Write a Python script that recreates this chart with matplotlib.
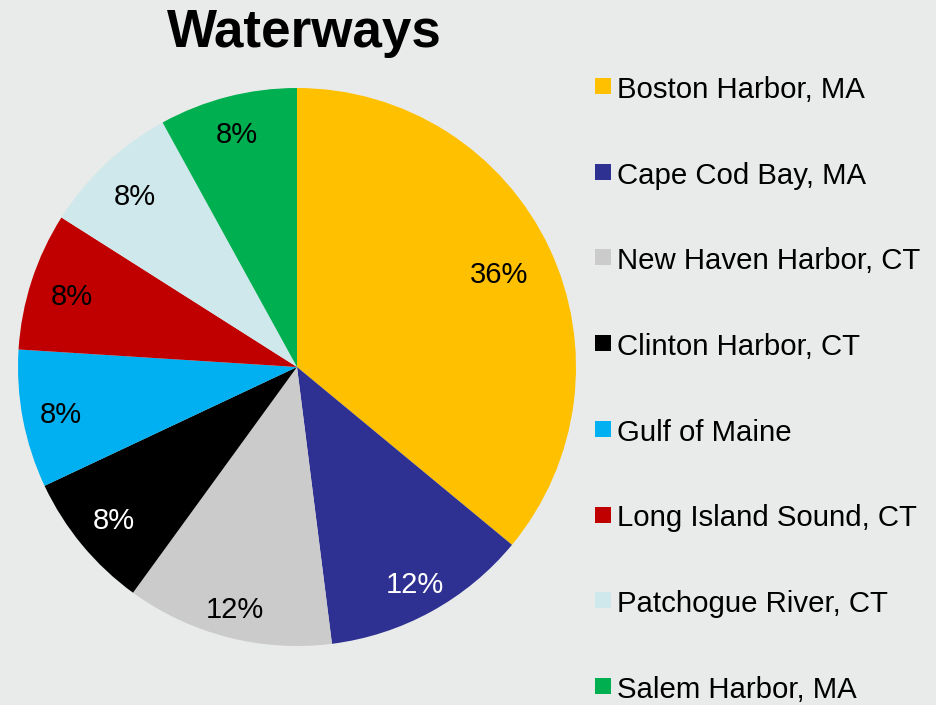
import matplotlib
matplotlib.use("Agg")
import matplotlib.pyplot as plt
from matplotlib.patches import Rectangle
import numpy as np

plt.rcParams["font.family"] = ["Liberation Sans", "DejaVu Sans"]

# Share of sightings per waterway (percent)
waterways = [
    "Boston Harbor, MA",
    "Cape Cod Bay, MA",
    "New Haven Harbor, CT",
    "Clinton Harbor, CT",
    "Gulf of Maine",
    "Long Island Sound, CT",
    "Patchogue River, CT",
    "Salem Harbor, MA",
]
shares = [36, 12, 12, 8, 8, 8, 8, 8]

colors = ["#FFC000", "#2E3092", "#CBCBCB", "#000000",
          "#00B0F0", "#C00000", "#CFE8EC", "#00B050"]
label_colors = ["black", "white", "black", "white",
                "black", "black", "black", "black"]
# radial position of each percentage label (fraction of radius)
label_radius = [0.80, 0.88, 0.89, 0.85, 0.86, 0.85, 0.85, 0.87]

W, H = 937, 705
bg = "#E9EBEA"
fig = plt.figure(figsize=(W / 100, H / 100), dpi=100, facecolor=bg)

# pie axes: centre (297, 367) px, radius 279 px
cx, cy, r = 297, 367, 279
ax = fig.add_axes([(cx - r) / W, (H - cy - r) / H, 2 * r / W, 2 * r / H])
ax.set_facecolor(bg)

wedges, texts = ax.pie(shares, colors=colors, startangle=90, counterclock=False,
                       radius=1.0, wedgeprops=dict(linewidth=0))
for w, val, col, rad in zip(wedges, shares, label_colors, label_radius):
    mid = np.deg2rad((w.theta1 + w.theta2) / 2)
    ax.text(rad * np.cos(mid), rad * np.sin(mid) - 0.01, f"{val}%",
            ha="center", va="center", fontsize=21, color=col)
ax.set_xlim(-1, 1)
ax.set_ylim(-1, 1)
ax.set_aspect("equal")
ax.axis("off")

fig.text(304 / W, 1 - 47 / H, "Waterways", ha="center", va="baseline",
         fontsize=38.2, fontweight="bold", color="black")

# legend: square swatch and label per waterway
row0, step = 98, 85.7
for i, (name, col) in enumerate(zip(waterways, colors)):
    base = row0 + i * step
    fig.patches.append(Rectangle((595 / W, 1 - (base - 4) / H), 16 / W, 16 / H,
                                 transform=fig.transFigure, facecolor=col,
                                 edgecolor="none"))
    fig.text(617 / W, 1 - base / H, name, ha="left", va="baseline",
             fontsize=21.2, color="black")

fig.savefig("out.png", dpi=100, facecolor=bg)
